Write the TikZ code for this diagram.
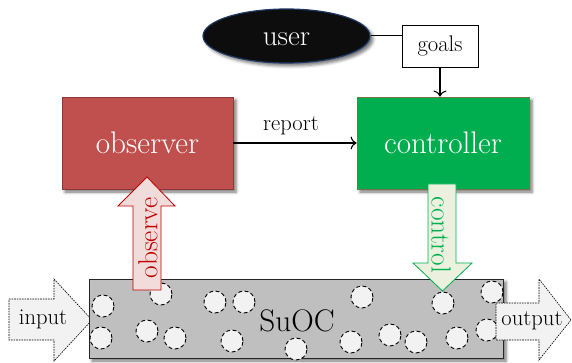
\documentclass[tikz,border=0pt]{standalone}
\usetikzlibrary{shadows.blur,arrows.meta,shapes.geometric}

\definecolor{obsred}{HTML}{C0504D}
\definecolor{obsredline}{HTML}{8C3836}
\definecolor{ctrlgreen}{HTML}{00AD4F}
\definecolor{ctrlline}{HTML}{7A6F45}
\definecolor{userblack}{HTML}{0D0D0D}
\definecolor{userline}{HTML}{1F3864}
\definecolor{pinkfill}{HTML}{F2DCDB}
\definecolor{pinkline}{HTML}{C00000}
\definecolor{mintfill}{HTML}{EBF1DE}
\definecolor{mintline}{HTML}{00B050}
\definecolor{sysgray}{HTML}{BFBFBF}
\definecolor{sysline}{HTML}{262626}
\definecolor{ballfill}{HTML}{F2F2F2}

\tikzset{
  softshadow/.style={blur shadow={shadow xshift=3pt, shadow yshift=-3pt,
      shadow blur radius=3pt, shadow opacity=55}},
  bigfont/.style={font=\fontsize{31.2}{35}\selectfont},
  smallfont/.style={font=\fontsize{22.6}{26}\selectfont},
  tagfont/.style={font=\fontsize{27.5}{31}\selectfont},
  agent/.style={draw, line width=0.8pt, inner sep=0pt, text=white,
      bigfont, softshadow},
  ball/.style={circle, draw=black, fill=ballfill, line width=0.9pt,
      dash pattern=on 3.8pt off 2.6pt, minimum size=22pt, inner sep=0pt},
  flowarrow/.style={draw=black, fill=ballfill, line width=0.6pt,
      dash pattern=on 1.6pt off 1pt},
  link/.style={line width=1.1pt, -{To[length=6pt,width=13pt]}},
}

\begin{document}
\begin{tikzpicture}[x=1pt,y=-1pt]
\useasboundingbox (0,0) rectangle (572,363);

% input stream into the system
\draw[flowarrow] (9,299) -- (54,299) -- (54,279) -- (92,320) -- (54,361)
  -- (54,340) -- (9,340) -- cycle;
\node[smallfont] (inlabel) at (43,319) {input};

% system under observation and control
\node[draw=sysline, fill=sysgray, line width=0.9pt, minimum width=414pt,
  minimum height=79pt, inner sep=0pt, softshadow] (suoc) at (296,318.5) {};

% the many interacting components inside the system
\foreach \p [count=\i] in {(103,306),(101,338),(161,294),(147,331),(175,338),
    (215,302),(244,302),(232,341),(296,349),(362,297),(351,342),(390,335),
    (416,342),(443,303),(457,338),(492,292),(487,330)}
  \node[ball] (b\i) at \p {};

\node[bigfont] (suoclabel) at (297,321) {SuOC};

% output stream leaving the system
\draw[flowarrow] (496,303) -- (539,303) -- (539,279) -- (571,320) -- (539,360)
  -- (539,340) -- (496,340) -- cycle;
\node[smallfont] (outlabel) at (532,321) {output};

% observer / controller pair
\node[agent, fill=obsred, draw=obsredline, minimum width=171pt,
  minimum height=92pt] (observer) at (147.5,143) {observer};
\node[agent, fill=ctrlgreen, draw=ctrlline, minimum width=172pt,
  minimum height=92pt] (controller) at (443,143) {controller};

% user and goals
\node[ellipse, draw=userline, fill=userblack, line width=1.2pt, inner sep=0pt,
  minimum width=167pt, minimum height=54pt, softshadow] (user) at (286.5,36) {};
\node[text=white, font=\fontsize{29}{33}\selectfont] (userlabel)
  at (286.5,39) {user};
\node[draw, fill=white, line width=0.8pt, minimum width=76pt, minimum height=42pt,
  inner sep=0pt, smallfont] (goals) at (440,46) {goals};

\draw[line width=1pt] (user.east) -- (user.east -| goals.west);
\draw[link] (goals.south) -- (goals.south |- controller.north);
\draw[link] (observer.east) -- (controller.west);
\node[smallfont] (reportlabel) at (291,126) {report};

% observe: from the system up to the observer
\draw[draw=pinkline, fill=pinkfill, line width=0.8pt]
  (133,290) -- (133,206) -- (118,206) -- (147,177) -- (175,206) -- (161,206)
  -- (161,290) -- cycle;
\node[tagfont, text=pinkline, rotate=90] (observelabel) at (148,238) {observe};

% control: from the controller down to the system
\draw[draw=mintline, fill=mintfill, line width=0.8pt]
  (428,184) -- (456,184) -- (456,263) -- (472,263) -- (442.5,291) -- (413,263)
  -- (428,263) -- cycle;
\node[tagfont, text=mintline, rotate=-90] (controllabel) at (441,235) {control};
\end{tikzpicture}
\end{document}
